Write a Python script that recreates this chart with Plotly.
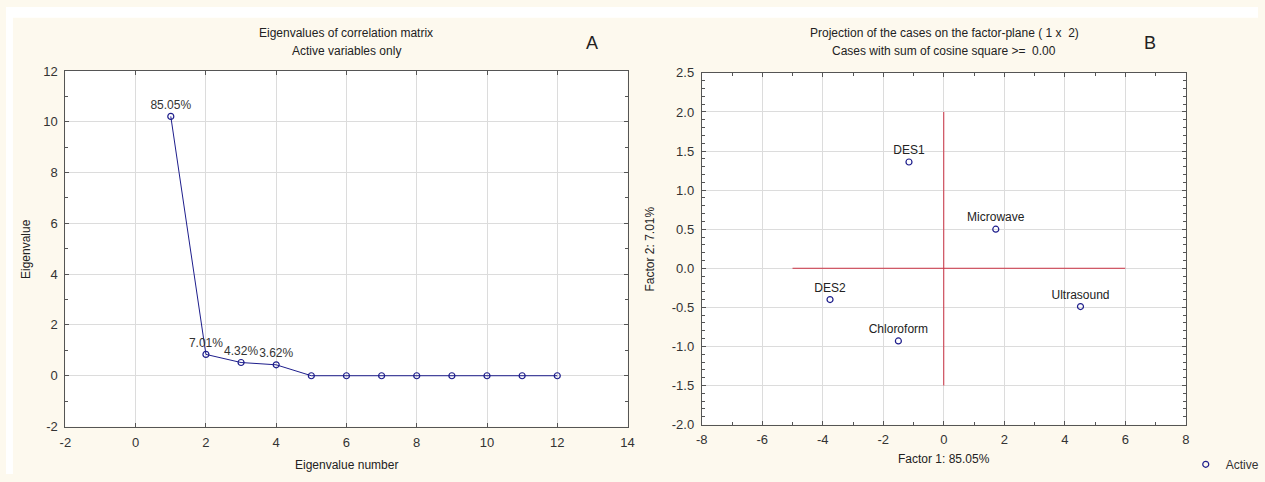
import plotly.graph_objects as go

# ---- data: panel A (scree plot) ----
eig_number = [1, 2, 3, 4, 5, 6, 7, 8, 9, 10, 11, 12]
eig_value = [10.21, 0.84, 0.52, 0.43, 0.0, 0.0, 0.0, 0.0, 0.0, 0.0, 0.0, 0.0]
eig_label = ["85.05%", "7.01%", "4.32%", "3.62%", "", "", "", "", "", "", "", ""]
a_xticks = [-2, 0, 2, 4, 6, 8, 10, 12, 14]
a_xticktext = ["-2", "0", "2", "4", "6", "8", "10", "12", "14"]
a_yticks = [-2, 0, 2, 4, 6, 8, 10, 12]
a_yticktext = ["-2", "0", "2", "4", "6", "8", "10", "12"]

# ---- data: panel B (factor plane) ----
case_names = ["DES1", "Microwave", "DES2", "Chloroform", "Ultrasound"]
factor1 = [-1.15, 1.72, -3.76, -1.50, 4.52]
factor2 = [1.36, 0.50, -0.40, -0.93, -0.49]
cross_h_x = [-5, 6]
cross_h_y = [0, 0]
cross_v_x = [0, 0]
cross_v_y = [-1.5, 2.0]
b_xticks = [-8, -6, -4, -2, 0, 2, 4, 6, 8]
b_xticktext = ["-8", "-6", "-4", "-2", "0", "2", "4", "6", "8"]
b_yticks = [-2.0, -1.5, -1.0, -0.5, 0.0, 0.5, 1.0, 1.5, 2.0, 2.5]
b_yticktext = ["-2.0", "-1.5", "-1.0", "-0.5", "0.0", "0.5", "1.0", "1.5", "2.0", "2.5"]

W, H = 1265, 482
CREAM = "#FDF9EE"
FONT = "Liberation Sans"
NAVY = "#1e1e8c"

def px_x(p):
    return p / W

def px_y(p):
    return 1 - p / H

fig = go.Figure()

fig.add_trace(go.Scatter(
    x=eig_number, y=eig_value, mode="lines+markers+text",
    text=eig_label, textposition="top center",
    textfont=dict(family=FONT, size=12, color="#333333"),
    line=dict(color=NAVY, width=1),
    marker=dict(symbol="circle-open", size=6, color=NAVY, line=dict(width=1.2)),
    showlegend=False, xaxis="x", yaxis="y", cliponaxis=False,
))

fig.add_trace(go.Scatter(
    x=cross_h_x, y=cross_h_y, mode="lines",
    line=dict(color="#cc3344", width=1), showlegend=False,
    xaxis="x2", yaxis="y2", hoverinfo="skip",
))
fig.add_trace(go.Scatter(
    x=cross_v_x, y=cross_v_y, mode="lines",
    line=dict(color="#cc3344", width=1), showlegend=False,
    xaxis="x2", yaxis="y2", hoverinfo="skip",
))
fig.add_trace(go.Scatter(
    x=factor1, y=factor2, mode="markers+text", name="Active",
    text=case_names, textposition="top center",
    textfont=dict(family=FONT, size=12, color="#222222"),
    marker=dict(symbol="circle-open", size=6, color=NAVY, line=dict(width=1.2)),
    xaxis="x2", yaxis="y2", cliponaxis=False,
))

axis_common = dict(
    showline=True, linecolor="#555555", linewidth=1, mirror="ticks",
    ticks="inside", ticklen=4, tickcolor="#555555",
    showgrid=True, gridcolor="#dcdcdc", gridwidth=1, zeroline=False,
    tickfont=dict(family=FONT, size=13, color="#333333"),
)
minor_tick = dict(ticks="inside", ticklen=3, tickcolor="#555555", showgrid=False)

fig.update_layout(
    width=W, height=H,
    margin=dict(l=0, r=0, t=0, b=0),
    paper_bgcolor=CREAM, plot_bgcolor="white",
    font=dict(family=FONT, size=12, color="#333333"),
    xaxis=dict(domain=[px_x(60), px_x(628)], range=[-2, 14],
               tickvals=a_xticks, ticktext=a_xticktext, ticklabelstandoff=4,
               anchor="y", **axis_common),
    yaxis=dict(domain=[px_y(433), px_y(66)], range=[-2, 12],
               tickvals=a_yticks, ticktext=a_yticktext, ticklabelstandoff=4,
               anchor="x", minor=dict(dtick=1, **minor_tick),
               **axis_common),
    xaxis2=dict(domain=[px_x(703), px_x(1192)], range=[-8, 8],
                tickvals=b_xticks, ticktext=b_xticktext, ticklabelstandoff=3,
                anchor="y2", minor=dict(dtick=1, **minor_tick),
                **axis_common),
    yaxis2=dict(domain=[px_y(431), px_y(68)], range=[-2, 2.5],
                tickvals=b_yticks, ticktext=b_yticktext, ticklabelstandoff=4,
                anchor="x2", minor=dict(dtick=0.1, **minor_tick),
                **axis_common),
    showlegend=True,
    legend=dict(x=px_x(1192), y=px_y(472), xanchor="left", yanchor="middle",
                bgcolor="rgba(0,0,0,0)", itemwidth=30,
                font=dict(family=FONT, size=12, color="#333333")),
    shapes=[
        dict(type="rect", xref="paper", yref="paper", x0=0, x1=1,
             y0=px_y(11), y1=1, fillcolor="white", line=dict(width=0), layer="below"),
        dict(type="rect", xref="paper", yref="paper", x0=0, x1=px_x(7),
             y0=0, y1=1, fillcolor="white", line=dict(width=0), layer="below"),
    ],
)

def ann(text, x, y, size=12, angle=0):
    fig.add_annotation(text=text, x=px_x(x), y=px_y(y), xref="paper", yref="paper",
                       showarrow=False, textangle=angle,
                       font=dict(family=FONT, size=size, color="#222222"),
                       xanchor="center", yanchor="middle")

ann("Eigenvalues of correlation matrix", 344, 27)
ann("Active variables only", 344, 45)
ann("A", 592, 37, size=18)
ann("Eigenvalue number", 344, 473)
ann("Eigenvalue", 20, 250, angle=-90)

ann("Projection of the cases on the factor-plane ( 1 x  2)", 948, 27)
ann("Cases with sum of cosine square >=  0.00", 948, 45)
ann("B", 1156, 37, size=18)
ann("Factor 1: 85.05%", 948, 467)
ann("Factor 2: 7.01%", 651, 250, angle=-90)

fig.write_html(
    "out.html",
    config={"displayModeBar": False},
    post_script="document.body.style.margin='0px';"
                "document.documentElement.style.overflow='hidden';",
)
